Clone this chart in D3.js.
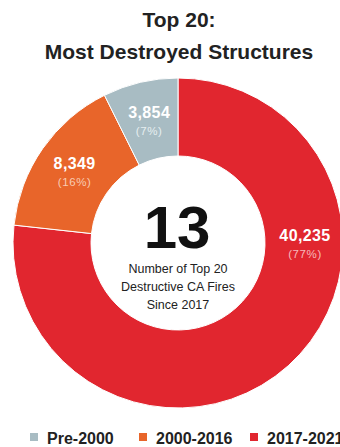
<!DOCTYPE html>
<html>
<head>
<meta charset="utf-8">
<script src="https://cdn.jsdelivr.net/npm/d3@7"></script>
<style>
  body { margin: 0; background: #fff; }
  svg { display: block; font-family: "Liberation Sans", Arial, sans-serif; }
</style>
</head>
<body>
<div id="chart"></div>
<script>
// datos
const categorias = ["2017-2021", "2000-2016", "Pre-2000"];
const estructuras = [40235, 8349, 3854];
const porcentajes = ["77%", "16%", "7%"];
const colores = ["#e1262f", "#e8652a", "#a8bcc3"];
const coloresPct = ["#f6b9bb", "#f8cbb2", "#e6eef0"];
const ordenLeyenda = ["Pre-2000", "2000-2016", "2017-2021"];
const titulo = ["Top 20:", "Most Destroyed Structures"];
const centroNumero = "13";
const centroTexto = ["Number of Top 20", "Destructive CA Fires", "Since 2017"];

window.onload = function () {
  const width = 340, height = 447;
  const cx = 178, cy = 243;
  const rOut = 165, rIn = 87;

  const svg = d3.select("#chart")
    .append("svg")
    .attr("width", width)
    .attr("height", height);

  // titulo
  svg.selectAll(".titulo")
    .data(titulo)
    .enter().append("text")
    .attr("class", "titulo")
    .attr("x", 179)
    .attr("y", (d, i) => 27 + i * 32)
    .attr("text-anchor", "middle")
    .style("font-size", "21px")
    .style("font-weight", "bold")
    .style("fill", "#222")
    .text(d => d);

  const datos = categorias.map((c, i) => ({ cat: c, valor: estructuras[i], pct: porcentajes[i], color: colores[i], colorPct: coloresPct[i] }));

  const pie = d3.pie().sort(null).value(d => d.valor);
  const arc = d3.arc().innerRadius(rIn).outerRadius(rOut);

  const g = svg.append("g").attr("transform", `translate(${cx},${cy})`);

  const arcos = pie(datos);

  g.selectAll("path")
    .data(arcos)
    .enter().append("path")
    .attr("d", arc)
    .attr("fill", d => d.data.color)
    .attr("stroke", "#fff")
    .attr("stroke-width", 1);

  // etiquetas: la roja va a la derecha, las demas en el centroide
  const rMid = (rIn + rOut) / 2;
  const posEtiqueta = (d, i) => i === 0 ? [rMid + 1, 0] : arc.centroid(d);

  const et = g.selectAll(".etiqueta")
    .data(arcos)
    .enter().append("g")
    .attr("class", "etiqueta")
    .attr("transform", (d, i) => `translate(${posEtiqueta(d, i)})`);

  et.append("text")
    .attr("text-anchor", "middle")
    .attr("y", -2)
    .style("font-size", "16px")
    .style("font-weight", "bold")
    .style("letter-spacing", "0.4px")
    .style("fill", "#fff")
    .text(d => d3.format(",")(d.data.valor));

  et.append("text")
    .attr("text-anchor", "middle")
    .attr("y", 15)
    .style("font-size", "11.5px")
    .style("letter-spacing", "0.6px")
    .style("fill", d => d.data.colorPct)
    .text(d => `(${d.data.pct})`);

  // centro
  g.append("text")
    .attr("text-anchor", "middle")
    .attr("x", -1)
    .attr("y", 5)
    .style("font-size", "60px")
    .style("font-weight", "bold")
    .style("fill", "#111")
    .text(centroNumero);

  g.selectAll(".centro")
    .data(centroTexto)
    .enter().append("text")
    .attr("class", "centro")
    .attr("text-anchor", "middle")
    .attr("y", (d, i) => 30 + i * 18)
    .style("font-size", "12.5px")
    .style("fill", "#222")
    .text(d => d);

  // leyenda
  const posX = [30, 139, 250];
  const leyenda = svg.selectAll(".leyenda")
    .data(ordenLeyenda)
    .enter().append("g")
    .attr("class", "leyenda")
    .attr("transform", (d, i) => `translate(${posX[i]},444)`);

  leyenda.append("rect")
    .attr("x", 0)
    .attr("y", -11)
    .attr("width", 8)
    .attr("height", 8)
    .attr("fill", d => colores[categorias.indexOf(d)]);

  leyenda.append("text")
    .attr("x", 17)
    .attr("y", 0)
    .style("font-size", "16px")
    .style("font-weight", "bold")
    .style("fill", "#222")
    .text(d => d);
};
</script>
</body>
</html>
